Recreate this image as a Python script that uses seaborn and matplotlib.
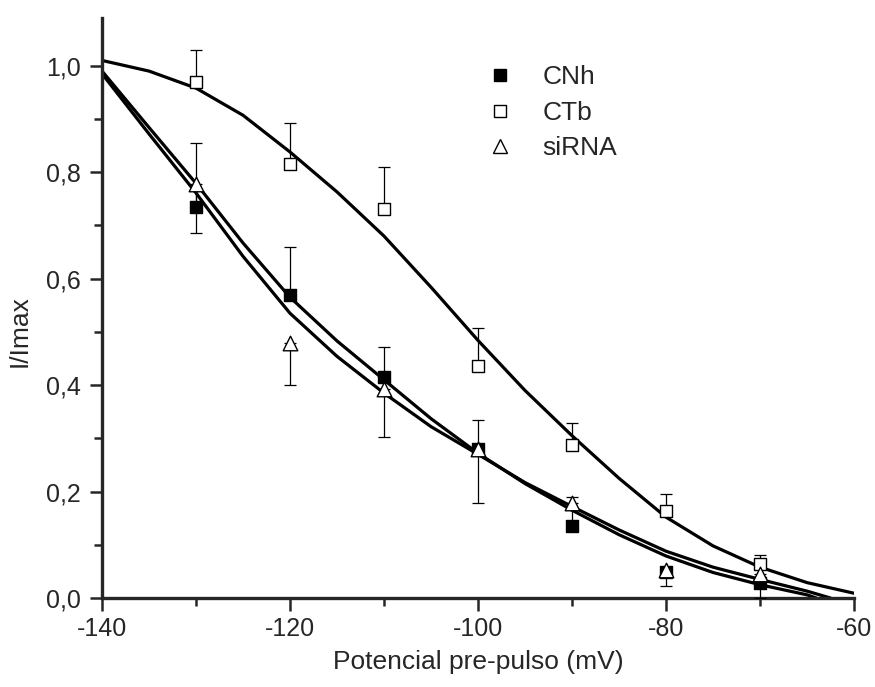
import matplotlib
matplotlib.use("Agg")
import matplotlib.pyplot as plt
import numpy as np
import pandas as pd
import seaborn as sns
from matplotlib.lines import Line2D
from matplotlib.ticker import MultipleLocator, FuncFormatter

# measured points (pre-pulse potential, normalised current)
voltages = [-130, -120, -110, -100, -90, -80, -70]
cnh = [0.734, 0.57, 0.416, 0.28, 0.135, 0.048, 0.029]
cnh_err_up = [0.12, 0.09, 0.056, 0.055, 0.054, 0.01, 0.01]
ctb = [0.97, 0.815, 0.73, 0.435, 0.288, 0.164, 0.064]
ctb_err_up = [0.06, 0.077, 0.08, 0.072, 0.04, 0.031, 0.016]
sirna = [0.778, 0.48, 0.392, 0.28, 0.178, 0.053, 0.046]
sirna_err_down = [0.093, 0.08, 0.09, 0.102, 0.01, 0.03, 0.046]

# fitted curves
ctb_fit_v = [-140, -135, -130, -125, -120, -115, -110, -105, -100, -95, -90, -85, -80, -75, -70, -65, -60]
ctb_fit = [1.01, 0.99, 0.958, 0.907, 0.838, 0.763, 0.68, 0.584, 0.484, 0.39, 0.305, 0.225, 0.152, 0.098, 0.058, 0.029, 0.009]
cnh_fit_v = [-140, -135, -130, -125, -120, -115, -110, -105, -100, -95, -90, -85, -80, -75, -70, -65, -64]
cnh_fit = [0.99, 0.884, 0.779, 0.667, 0.565, 0.483, 0.41, 0.337, 0.272, 0.215, 0.165, 0.119, 0.079, 0.048, 0.025, 0.006, 0.0]
sirna_fit_v = [-140, -135, -130, -125, -120, -115, -110, -105, -100, -95, -90, -85, -80, -75, -70, -65, -62.5]
sirna_fit = [0.985, 0.872, 0.761, 0.642, 0.535, 0.454, 0.385, 0.322, 0.27, 0.217, 0.172, 0.128, 0.088, 0.058, 0.035, 0.013, 0.0]

sns.set_style("ticks")
plt.rcParams["font.family"] = ["Liberation Sans", "DejaVu Sans"]
plt.rcParams["axes.unicode_minus"] = False

fig = plt.figure(figsize=(8.75, 6.87), dpi=100)
ax = fig.add_axes([0.1166, 0.1295, 0.8594, 0.8445])

zeros = np.zeros(len(voltages))

# fitted curves
for fv, fy in [(ctb_fit_v, ctb_fit), (cnh_fit_v, cnh_fit), (sirna_fit_v, sirna_fit)]:
    sns.lineplot(x=fv, y=fy, color="black", linewidth=2.3, sort=False, ax=ax, zorder=2)

# error bars
eb = dict(fmt="none", ecolor="black", elinewidth=0.9, capsize=4.5, capthick=0.9, zorder=3)
ax.errorbar(voltages, ctb, yerr=[zeros, ctb_err_up], **eb)
ax.errorbar(voltages, cnh, yerr=[zeros, cnh_err_up], **eb)
ax.errorbar(voltages, sirna, yerr=[sirna_err_down, zeros], **eb)

# markers
sns.scatterplot(x=voltages, y=cnh, marker="s", s=85, color="black", edgecolor="black",
                linewidth=1.0, ax=ax, zorder=4)
sns.scatterplot(x=voltages, y=ctb, marker="s", s=85, color="white", edgecolor="black",
                linewidth=1.0, ax=ax, zorder=4)
sns.scatterplot(x=voltages, y=sirna, marker="^", s=110, color="white", edgecolor="black",
                linewidth=1.0, ax=ax, zorder=5)

ax.set_xlim(-140, -60)
ax.set_ylim(0, 1.09)
ax.xaxis.set_major_locator(MultipleLocator(20))
ax.xaxis.set_minor_locator(MultipleLocator(10))
ax.yaxis.set_major_locator(MultipleLocator(0.2))
ax.yaxis.set_minor_locator(MultipleLocator(0.1))
ax.yaxis.set_major_formatter(FuncFormatter(lambda v, _: f"{v:.1f}".replace(".", ",")))
ax.xaxis.set_major_formatter(FuncFormatter(lambda v, _: f"{int(round(v))}"))

sns.despine(ax=ax)
for side in ["left", "bottom"]:
    ax.spines[side].set_linewidth(2.4)
ax.tick_params(which="major", length=9, width=1.8, labelsize=18, direction="out", pad=6)
ax.tick_params(which="minor", length=5.5, width=1.8, direction="out")
ax.tick_params(axis="x", which="major", pad=5)

ax.set_xlabel("Potencial pre-pulso (mV)", fontsize=19, labelpad=6)
ax.set_ylabel("I/Imax", fontsize=19)
ax.yaxis.set_label_coords(-0.093, 0.46)

handles = [
    Line2D([], [], marker="s", linestyle="none", markersize=8.5, markerfacecolor="black",
           markeredgecolor="black"),
    Line2D([], [], marker="s", linestyle="none", markersize=8.5, markerfacecolor="white",
           markeredgecolor="black"),
    Line2D([], [], marker="^", linestyle="none", markersize=9.5, markerfacecolor="white",
           markeredgecolor="black"),
]
ax.legend(handles, ["CNh", "CTb", "siRNA"], loc="upper left", bbox_to_anchor=(0.512, 0.918),
          frameon=False, fontsize=19, handlelength=1.0, handletextpad=1.1,
          labelspacing=0.43, borderpad=0, borderaxespad=0)

fig.savefig("out.png", dpi=100)
